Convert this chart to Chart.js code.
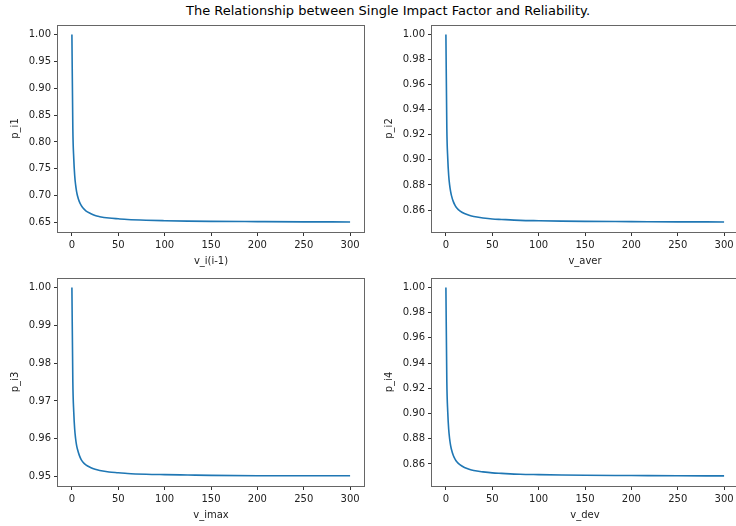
<!DOCTYPE html>
<html>
<head>
<meta charset="utf-8">
<script src="https://cdn.jsdelivr.net/npm/chart.js@4.4.0/dist/chart.umd.min.js"></script>
<style>
  html, body { margin: 0; padding: 0; background: #fff; overflow: hidden; }
  #fig { position: relative; width: 736px; height: 526px; overflow: hidden; }
  #fig canvas { position: absolute; }
  .suptitle { position: absolute; top: 3px; left: 0; width: 776px; text-align: center;
              font: 13px "DejaVu Sans", sans-serif; color: #000; }
</style>
</head>
<body>
<div id="fig">
  <div class="suptitle">The Relationship between Single Impact Factor and Reliability.</div>
  <canvas id="c1" width="374" height="257" style="left:0;top:15px"></canvas>
  <canvas id="c2" width="374" height="257" style="left:374px;top:15px"></canvas>
  <canvas id="c3" width="374" height="258" style="left:0;top:268px"></canvas>
  <canvas id="c4" width="374" height="258" style="left:374px;top:268px"></canvas>
</div>
<script>
// values
var xs = [0, 1, 2, 3, 4, 5, 6, 8, 10, 12, 15, 20, 25, 30, 40, 50, 60, 80, 100, 125, 150, 200, 250, 300];
var p_i1 = [1.0, 0.825, 0.769, 0.7375, 0.72, 0.708, 0.700, 0.689, 0.682, 0.677, 0.672, 0.667,
            0.663, 0.661, 0.6585, 0.657, 0.6557, 0.6543, 0.6535, 0.6528, 0.6523, 0.6518, 0.6514, 0.6512];
var p_i2 = [1.0, 0.925, 0.901, 0.8875, 0.880, 0.875, 0.8715, 0.8667, 0.8636, 0.8615, 0.8594, 0.8572,
            0.8558, 0.8548, 0.8537, 0.8529, 0.8525, 0.8518, 0.8515, 0.8512, 0.851, 0.8508, 0.8506, 0.8505];
var p_i3 = [1.0, 0.975, 0.967, 0.9625, 0.960, 0.9583, 0.9572, 0.9556, 0.9545, 0.9538, 0.9531, 0.9524,
            0.9519, 0.9516, 0.9512, 0.951, 0.9508, 0.9506, 0.9505, 0.9504, 0.9503, 0.9502, 0.9502, 0.9502];
var p_i4 = [1.0, 0.925, 0.901, 0.8875, 0.880, 0.875, 0.8715, 0.8667, 0.8636, 0.8615, 0.8594, 0.8572,
            0.8558, 0.8548, 0.8537, 0.8529, 0.8525, 0.8518, 0.8515, 0.8512, 0.851, 0.8508, 0.8506, 0.8505];

var xTicks = [0, 50, 100, 150, 200, 250, 300];
var yTicks1 = [0.65, 0.70, 0.75, 0.80, 0.85, 0.90, 0.95, 1.00];
var yTicks2 = [0.86, 0.88, 0.90, 0.92, 0.94, 0.96, 0.98, 1.00];
var yTicks3 = [0.95, 0.96, 0.97, 0.98, 0.99, 1.00];
var yTicks4 = [0.86, 0.88, 0.90, 0.92, 0.94, 0.96, 0.98, 1.00];

var tickFont = { family: 'DejaVu Sans', size: 10 };

// matplotlib style box around the plot area
var framePlugin = {
    id: 'frame',
    afterDraw: function (chart) {
        var a = chart.chartArea, c = chart.ctx;
        c.save();
        c.strokeStyle = '#666';
        c.lineWidth = 1;
        c.strokeRect(Math.round(a.left) - 0.5, Math.round(a.top) + 0.5,
                     Math.round(a.right - a.left) + 1, Math.round(a.bottom - a.top));
        c.restore();
    }
};

function makePanel(id, ys, xLabel, yLabel, yMin, yMax, yTicks) {
    var pts = xs.map(function (x, i) { return { x: x, y: ys[i] }; });
    return new Chart(document.getElementById(id), {
        type: 'line',
        data: {
            datasets: [{
                data: pts,
                borderColor: '#1f77b4',
                borderWidth: 1.6,
                pointRadius: 0,
                cubicInterpolationMode: 'monotone',
                fill: false
            }]
        },
        options: {
            responsive: false,
            animation: false,
            devicePixelRatio: 1,
            layout: { padding: { top: 10, right: 10, left: 0, bottom: 0 } },
            plugins: { legend: { display: false }, tooltip: { enabled: false } },
            scales: {
                x: {
                    type: 'linear',
                    min: -15,
                    max: 315,
                    afterBuildTicks: function (s) { s.ticks = xTicks.map(function (v) { return { value: v }; }); },
                    afterFit: function (s) { s.height = 40; },
                    grid: { drawOnChartArea: false, drawTicks: true, tickLength: 4, tickColor: '#333' },
                    border: { display: false },
                    ticks: { font: tickFont, color: '#222', padding: 3, maxRotation: 0,
                             callback: function (v) { return String(v); } },
                    title: { display: true, text: xLabel, font: tickFont, color: '#222',
                             padding: { top: 0, bottom: 5 } }
                },
                y: {
                    min: yMin,
                    max: yMax,
                    afterBuildTicks: function (s) { s.ticks = yTicks.map(function (v) { return { value: v }; }); },
                    afterFit: function (s) { s.width = 58; },
                    grid: { drawOnChartArea: false, drawTicks: true, tickLength: 4, tickColor: '#333' },
                    border: { display: false },
                    ticks: { font: tickFont, color: '#222', padding: 3,
                             callback: function (v) { return Number(v).toFixed(2); } },
                    title: { display: true, text: yLabel, font: tickFont, color: '#222',
                             padding: { top: 9, bottom: 0 } }
                }
            }
        },
        plugins: [framePlugin]
    });
}

makePanel('c1', p_i1, 'v_i(i-1)', 'p_i1', 0.6325, 1.0175, yTicks1);
makePanel('c2', p_i2, 'v_aver', 'p_i2', 0.8425, 1.0075, yTicks2);
makePanel('c3', p_i3, 'v_imax', 'p_i3', 0.9475, 1.0025, yTicks3);
makePanel('c4', p_i4, 'v_dev', 'p_i4', 0.8425, 1.0075, yTicks4);
</script>
</body>
</html>
